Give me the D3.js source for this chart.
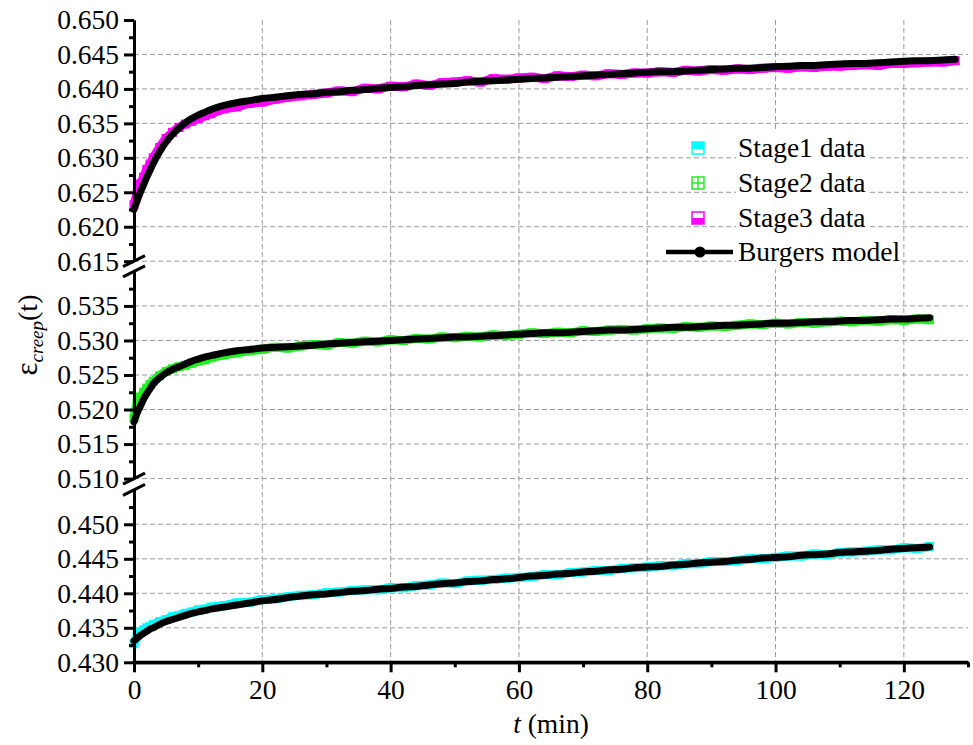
<!DOCTYPE html>
<html><head><meta charset="utf-8">
<script src="https://cdn.jsdelivr.net/npm/d3@7"></script>
<style>body{margin:0;background:#fff}</style>
</head><body>
<svg id="c" width="973" height="745"></svg>
<script>
// ---------- data ----------
const timeStage12 = [0,0.5,1,1.5,2,2.5,3,4,5,6,7,8,9,10,11,12,14,16,18,20,22,24,26,28,30,32,34,36,38,40,42,44,46,48,50,52,54,56,58,60,62,64,66,68,70,72,74,76,78,80,82,84,86,88,90,92,94,96,98,100,102,104,106,108,110,112,114,116,118,120,122,124];
const timeStage3 = [0,0.5,1,1.5,2,2.5,3,4,5,6,7,8,9,10,11,12,14,16,18,20,22,24,26,28,30,32,34,36,38,40,42,44,46,48,50,52,54,56,58,60,62,64,66,68,70,72,74,76,78,80,82,84,86,88,90,92,94,96,98,100,102,104,106,108,110,112,114,116,118,120,122,124,126,128];

const stage1Data = [0.4327,0.4338,0.4343,0.4347,0.4350,0.4352,0.4355,0.4359,0.4362,0.4366,0.4368,0.4371,0.4373,0.4376,0.4377,0.4380,
0.4382,0.4386,0.4387,0.4391,0.4392,0.4395,0.4397,0.4398,0.4401,0.4402,0.4404,0.4405,0.4405,0.4408,0.4408,0.4411,0.4412,0.4415,0.4414,0.4418,0.4419,0.4420,0.4422,0.4423,0.4424,0.4427,0.4427,0.4430,0.4431,0.4433,0.4433,0.4436,0.4437,0.4438,0.4440,0.4440,0.4443,0.4443,0.4446,0.4446,0.4447,0.4450,0.4450,0.4452,0.4454,0.4454,0.4457,0.4456,0.4459,0.4460,0.4461,0.4463,0.4463,0.4466,0.4465,0.4468];
const stage1Model = [0.4331,0.4335,0.4339,0.4342,0.4345,0.4348,0.4350,0.4355,0.4359,0.4362,0.4365,0.4368,0.4371,0.4373,0.4375,0.4377,
0.4380,0.4383,0.4386,0.4389,0.4391,0.4394,0.4396,0.4398,0.4399,0.4401,0.4403,0.4404,0.4406,0.4407,0.4409,0.4410,0.4412,0.4414,0.4415,0.4417,0.4418,0.4420,0.4421,0.4423,0.4425,0.4426,0.4428,0.4429,0.4431,0.4432,0.4434,0.4435,0.4437,0.4438,0.4439,0.4441,0.4442,0.4444,0.4445,0.4446,0.4448,0.4449,0.4451,0.4452,0.4453,0.4455,0.4456,0.4457,0.4459,0.4460,0.4461,0.4462,0.4464,0.4465,0.4466,0.4467];

const stage2Data = [0.5188,0.5210,0.5218,0.5225,0.5231,0.5236,0.5241,0.5249,0.5255,0.5259,0.5262,0.5264,0.5267,0.5270,0.5272,0.5275,
0.5279,0.5282,0.5285,0.5287,0.5290,0.5289,0.5292,0.5294,0.5293,0.5297,0.5296,0.5299,0.5298,0.5301,0.5300,0.5303,0.5302,0.5305,0.5304,0.5306,0.5305,0.5308,0.5307,0.5309,0.5311,0.5310,0.5312,0.5311,0.5314,0.5313,0.5315,0.5316,0.5315,0.5317,0.5318,0.5317,0.5320,0.5319,0.5321,0.5320,0.5322,0.5324,0.5323,0.5325,0.5324,0.5326,0.5325,0.5327,0.5328,0.5327,0.5329,0.5328,0.5330,0.5329,0.5331,0.5330];
const stage2Model = [0.5182,0.5195,0.5205,0.5215,0.5223,0.5230,0.5237,0.5246,0.5253,0.5258,0.5262,0.5266,0.5270,0.5273,0.5276,0.5278,
0.5282,0.5285,0.5287,0.5289,0.5290,0.5291,0.5292,0.5293,0.5295,0.5296,0.5297,0.5298,0.5299,0.5300,0.5301,0.5302,0.5303,0.5304,0.5305,0.5305,0.5306,0.5307,0.5308,0.5309,0.5310,0.5311,0.5311,0.5312,0.5313,0.5314,0.5315,0.5315,0.5316,0.5317,0.5318,0.5319,0.5319,0.5320,0.5321,0.5322,0.5322,0.5323,0.5324,0.5325,0.5325,0.5326,0.5327,0.5327,0.5328,0.5329,0.5329,0.5330,0.5331,0.5331,0.5332,0.5333];

const stage3Data = [0.6232,0.6248,0.6262,0.6272,0.6283,0.6291,0.6300,0.6315,0.6328,0.6337,0.6344,0.6349,0.6353,0.6357,0.6361,0.6364,
0.6371,0.6374,0.6379,0.6381,0.6385,0.6388,0.6390,0.6392,0.6394,0.6397,0.6396,0.6401,0.6400,0.6404,0.6403,0.6407,0.6405,0.6409,0.6410,0.6412,0.6410,0.6415,0.6414,0.6416,0.6417,0.6415,0.6419,0.6418,0.6420,0.6419,0.6422,0.6421,0.6423,0.6423,0.6425,0.6424,0.6427,0.6426,0.6428,0.6427,0.6429,0.6428,0.6430,0.6431,0.6430,0.6432,0.6431,0.6433,0.6433,0.6434,0.6435,0.6434,0.6437,0.6437,0.6438,0.6439,0.6439,0.6441];
const stage3Model = [0.6225,0.6238,0.6250,0.6261,0.6272,0.6282,0.6292,0.6309,0.6323,0.6334,0.6343,0.6351,0.6357,0.6362,0.6366,0.6370,
0.6376,0.6380,0.6383,0.6386,0.6388,0.6390,0.6392,0.6393,0.6395,0.6396,0.6398,0.6399,0.6401,0.6402,0.6403,0.6405,0.6406,0.6407,0.6408,0.6410,0.6411,0.6412,0.6413,0.6414,0.6415,0.6416,0.6417,0.6418,0.6419,0.6420,0.6421,0.6422,0.6423,0.6424,0.6425,0.6425,0.6426,0.6427,0.6428,0.6429,0.6430,0.6430,0.6431,0.6432,0.6433,0.6434,0.6434,0.6435,0.6436,0.6437,0.6437,0.6438,0.6439,0.6440,0.6441,0.6441,0.6442,0.6443];

const yTicksTop = [0.615,0.620,0.625,0.630,0.635,0.640,0.645,0.650];
const yMinorTop = [0.6175,0.6225,0.6275,0.6325,0.6375,0.6425,0.6475];
const yTicksMid = [0.510,0.515,0.520,0.525,0.530,0.535];
const yMinorMid = [0.5125,0.5175,0.5225,0.5275,0.5325,0.5375];
const yTicksBot = [0.430,0.435,0.440,0.445,0.450];
const yMinorBot = [0.4325,0.4375,0.4425,0.4475,0.4525];
const xTicks = [0,20,40,60,80,100,120];
const xMinor = [10,30,50,70,90,110,130];
const legendLabels = ["Stage1 data","Stage2 data","Stage3 data","Burgers model"];

// ---------- chart ----------
const FONT = '"Liberation Serif"';
const svg = d3.select('#c');
const X0 = 134, X1 = 968, YT = 20, YB = 662.3;
const x = d3.scaleLinear().domain([0,130]).range([X0,X1]);
const yTop = d3.scaleLinear().domain([0.615,0.650]).range([261.2,20]);
const yMid = d3.scaleLinear().domain([0.510,0.540]).range([478.6,271.4]);
const yBot = d3.scaleLinear().domain([0.430,0.455]).range([662.3,489.8]);

const cCyan = '#00FFFF', cGreen = '#22EE22', cMag = '#FF00FF';

// grid
const grid = svg.append('g').attr('stroke','#9a9a9a').attr('stroke-width',1).attr('stroke-dasharray','5,3');
xTicks.filter(d=>d>0).forEach(d=>{
  grid.append('line').attr('x1',x(d)).attr('x2',x(d)).attr('y1',YT).attr('y2',YB);
});
[[yTop,yTicksTop.filter(d=>d<0.65)],[yMid,yTicksMid],[yBot,yTicksBot.filter(d=>d>0.43)]].forEach(([s,ts])=>{
  ts.forEach(d=>grid.append('line').attr('x1',X0).attr('x2',X1).attr('y1',s(d)).attr('y2',s(d)));
});

// series
function drawSeries(times, data, model, scale, color){
  const pts = times.map((t,i)=>[t,data[i]]).filter(d=>d[1]!=null);
  const mpts = times.map((t,i)=>[t,model[i]]).filter(d=>d[1]!=null);
  const line = d3.line().x(d=>x(d[0])).y(d=>scale(d[1])).curve(d3.curveMonotoneX);
  svg.append('path').attr('d',line(pts)).attr('fill','none').attr('stroke',color).attr('stroke-width',9).attr('stroke-linejoin','round');
  svg.append('g').selectAll('rect').data(pts).join('rect')
    .attr('x',d=>x(d[0])-4.5).attr('y',d=>scale(d[1])-4.5).attr('width',9).attr('height',9).attr('fill',color);
  svg.append('path').attr('d',line(mpts)).attr('fill','none').attr('stroke','#000').attr('stroke-width',7).attr('stroke-linecap','round');
}
drawSeries(timeStage12, stage1Data, stage1Model, yBot, cCyan);
drawSeries(timeStage12, stage2Data, stage2Model, yMid, cGreen);
drawSeries(timeStage3, stage3Data, stage3Model, yTop, cMag);

// axes
function styleAxis(g){
  g.attr('font-family',null);
  g.selectAll('path.domain').attr('stroke','#000').attr('stroke-width',3);
  g.selectAll('.tick line').attr('stroke','#000').attr('stroke-width',3);
  g.selectAll('.tick text').style('font-family',FONT).style('font-size','27.5px').attr('fill','#000');
}
[[yTop,yTicksTop,yMinorTop],[yMid,yTicksMid,yMinorMid],[yBot,yTicksBot,yMinorBot]].forEach(([s,maj,min])=>{
  const gm = svg.append('g').attr('transform',`translate(${X0},0)`)
    .call(d3.axisLeft(s).tickValues(min).tickSize(5).tickSizeOuter(0).tickFormat(''));
  styleAxis(gm);
  const g = svg.append('g').attr('transform',`translate(${X0},0)`)
    .call(d3.axisLeft(s).tickValues(maj).tickSize(10).tickSizeOuter(0).tickPadding(5).tickFormat(d3.format('.3f')));
  styleAxis(g);
});
const gxm = svg.append('g').attr('transform',`translate(0,${YB})`)
  .call(d3.axisBottom(x).tickValues(xMinor).tickSize(5).tickSizeOuter(0).tickFormat(''));
styleAxis(gxm);
const gx = svg.append('g').attr('transform',`translate(0,${YB})`)
  .call(d3.axisBottom(x).tickValues(xTicks).tickSize(10).tickSizeOuter(0).tickPadding(7));
styleAxis(gx);
svg.append('line').attr('x1',X0-1.5).attr('x2',X1).attr('y1',YB).attr('y2',YB).attr('stroke','#000').attr('stroke-width',3);

// breaks
[yTop(0.615), yMid(0.540), yMid(0.510), yBot(0.455)].forEach(yy=>{
  svg.append('line').attr('x1',X0-11).attr('y1',yy+5.5).attr('x2',X0+11).attr('y2',yy-5.5)
    .attr('stroke','#000').attr('stroke-width',3);
});

// axis titles
svg.append('text').attr('x',x(65)).attr('y',733).attr('text-anchor','middle')
  .style('font-family',FONT).style('font-size','27.5px')
  .call(t=>{t.append('tspan').attr('font-style','italic').text('t'); t.append('tspan').text(' (min)');});
svg.append('text').attr('transform','translate(37,335) rotate(-90)').attr('text-anchor','middle')
  .style('font-family',FONT).style('font-size','28px')
  .call(t=>{
    t.append('tspan').text('ε').style('font-size','31px');
    t.append('tspan').attr('font-style','italic').style('font-size','19px').attr('dy',6).text('creep');
    t.append('tspan').attr('dy',-6).text('(t)');
  });

// legend
const lg = svg.append('g');
const rowY = [148,183,218,252];
legendLabels.forEach((lab,i)=>{
  const tx = lg.append('text').attr('x',738).attr('y',rowY[i]).attr('dy','0.33em')
    .style('font-family',FONT).style('font-size','27.5px').attr('fill','#000').text(lab);
  const bb = tx.node().getBBox();
  lg.insert('rect','text').attr('x',bb.x-2).attr('y',rowY[i]-17.5).attr('width',bb.width+4).attr('height',35).attr('fill','#fff');
});
// symbols
const sx = 698, sz = 12;
lg.append('rect').attr('x',sx-sz/2).attr('y',rowY[0]-sz/2).attr('width',sz).attr('height',sz).attr('fill','#fff').attr('stroke',cCyan).attr('stroke-width',1.5);
lg.append('rect').attr('x',sx-sz/2).attr('y',rowY[0]-sz/2).attr('width',sz).attr('height',sz*0.6).attr('fill',cCyan);
lg.append('rect').attr('x',sx-sz/2).attr('y',rowY[1]-sz/2).attr('width',sz).attr('height',sz).attr('fill','#fff').attr('stroke',cGreen).attr('stroke-width',1.5);
lg.append('line').attr('x1',sx).attr('x2',sx).attr('y1',rowY[1]-sz/2).attr('y2',rowY[1]+sz/2).attr('stroke',cGreen).attr('stroke-width',1.5);
lg.append('line').attr('x1',sx-sz/2).attr('x2',sx+sz/2).attr('y1',rowY[1]).attr('y2',rowY[1]).attr('stroke',cGreen).attr('stroke-width',1.5);
lg.append('rect').attr('x',sx-sz/2).attr('y',rowY[2]-sz/2).attr('width',sz).attr('height',sz).attr('fill','#fff').attr('stroke',cMag).attr('stroke-width',1.5);
lg.append('rect').attr('x',sx-sz/2).attr('y',rowY[2]).attr('width',sz).attr('height',sz/2).attr('fill',cMag);
lg.append('line').attr('x1',666).attr('x2',733).attr('y1',rowY[3]).attr('y2',rowY[3]).attr('stroke','#000').attr('stroke-width',4.5);
lg.append('circle').attr('cx',700).attr('cy',rowY[3]).attr('r',5.5).attr('fill','#000');
</script>
</body></html>
